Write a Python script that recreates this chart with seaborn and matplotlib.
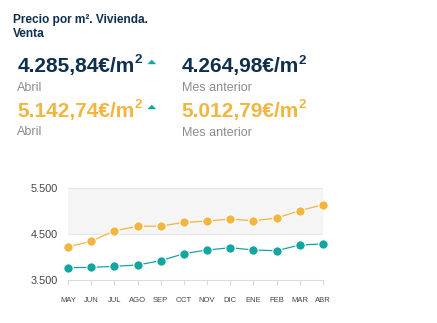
import matplotlib
matplotlib.use("Agg")
import matplotlib.pyplot as plt
from matplotlib.patches import Polygon
from matplotlib.ticker import FuncFormatter
import seaborn as sns
import pandas as pd

# Monthly price per m² (EUR)
months = ["MAY", "JUN", "JUL", "AGO", "SEP", "OCT", "NOV", "DIC", "ENE", "FEB", "MAR", "ABR"]
precio_a = [3768, 3776, 3798, 3827, 3921, 4074, 4154, 4204, 4154, 4138, 4264.98, 4285.84]
precio_b = [4225, 4343, 4574, 4670, 4676, 4757, 4785, 4829, 4792, 4851, 5012.79, 5142.74]

y_ticks = [3500, 4500, 5500]

NAVY = "#0f2f4e"
YELLOW = "#f2b53f"
TEAL = "#13a6a1"
GREY = "#8c8c8c"

sns.set_style("white")
plt.rcParams["font.family"] = ["Liberation Sans", "DejaVu Sans"]

W, H = 437, 323
fig = plt.figure(figsize=(W / 100, H / 100), dpi=100)

# Chart area
ax = fig.add_axes([68 / W, 1 - 280 / H, (323 - 68) / W, (280 - 188.3) / H])
df = pd.DataFrame({
    "mes": months * 2,
    "precio": precio_a + precio_b,
    "serie": ["a"] * len(months) + ["b"] * len(months),
})
df["x"] = list(range(len(months))) * 2

ax.axhspan(4500, 5500, color="#f5f5f5", zorder=0, lw=0)
for yv in (4500, 5500):
    ax.axhline(yv, color="#e6e6e6", lw=0.8, zorder=0.5)

sns.lineplot(data=df, x="x", y="precio", hue="serie",
             palette={"a": TEAL, "b": YELLOW}, marker="o", markersize=6.8,
             markeredgecolor="white", markeredgewidth=0.8, linewidth=0.9,
             legend=False, ax=ax, zorder=3, clip_on=False)

ax.set_xlim(0, len(months) - 1)
ax.set_ylim(3500, 5500)
ax.set_yticks(y_ticks)
ax.yaxis.set_major_formatter(FuncFormatter(lambda v, _: f"{int(v):,}".replace(",", ".")))
ax.set_xticks(range(len(months)))
ax.set_xticklabels(months)
ax.set_xlabel("")
ax.set_ylabel("")
ax.set_facecolor("none")
for s in ("left", "right", "top"):
    ax.spines[s].set_visible(False)
ax.spines["bottom"].set_color("#dcdcdc")
ax.spines["bottom"].set_linewidth(0.8)
ax.tick_params(axis="y", length=0, pad=7, labelsize=7.8, labelcolor="#444444")
ax.tick_params(axis="x", length=3.6, width=0.8, color="#dcdcdc", pad=9,
               labelsize=5.5, labelcolor="#444444", direction="out", bottom=True)

# Header panel in pixel coordinates (y grows downward)
tax = fig.add_axes([0, 0, 1, 1])
tax.set_xlim(0, W)
tax.set_ylim(H, 0)
tax.axis("off")

tax.text(13.3, 23.3, "Precio por m². Vivienda.", fontsize=8.6, fontweight="bold",
         color=NAVY, va="baseline")
tax.text(13.3, 36.7, "Venta", fontsize=8.6, fontweight="bold", color=NAVY, va="baseline")

renderer = fig.canvas.get_renderer()


def value(x, y, txt, color):
    t = tax.text(x, y, txt, fontsize=15, fontweight="bold", color=color, va="baseline")
    bb = t.get_window_extent(renderer=renderer)
    x_end = tax.transData.inverted().transform((bb.x1, bb.y0))[0]
    tax.text(x_end - 0.3, y - 8.7, "2", fontsize=9.6, fontweight="bold",
             color=color, va="baseline", ha="left")


value(17.3, 72, "4.285,84€/m", NAVY)
value(17.3, 117, "5.142,74€/m", YELLOW)
value(181.7, 72.3, "4.264,98€/m", NAVY)
value(181.7, 116.5, "5.012,79€/m", YELLOW)

tax.text(17.3, 90.7, "Abril", fontsize=9, color=GREY, va="baseline")
tax.text(17.3, 135, "Abril", fontsize=9, color=GREY, va="baseline")
tax.text(181.7, 91, "Mes anterior", fontsize=9, color=GREY, va="baseline")
tax.text(181.7, 135.5, "Mes anterior", fontsize=9, color=GREY, va="baseline")

# Up arrows next to the current values
for cy in (62, 107):
    tax.add_patch(Polygon([(147.3, cy + 2.2), (156.3, cy + 2.2), (151.8, cy - 2.2)],
                          closed=True, color=TEAL, lw=0))

fig.savefig("out.png", dpi=100)
